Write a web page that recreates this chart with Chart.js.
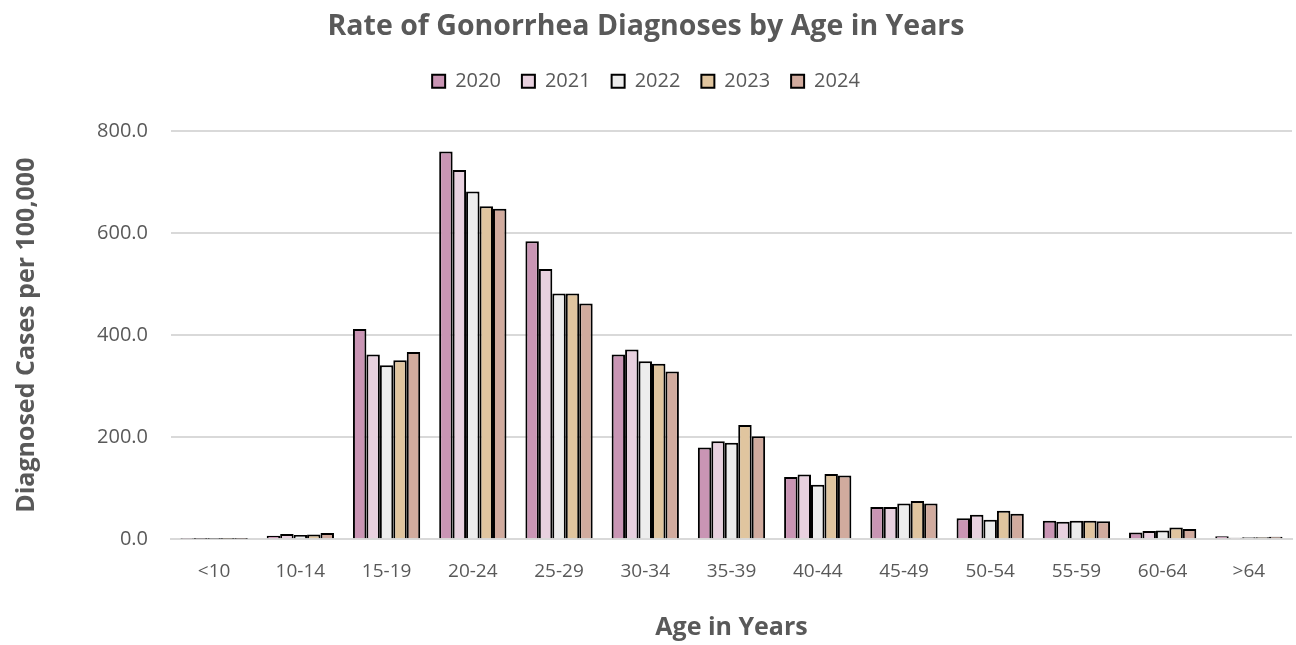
<!DOCTYPE html>
<html>
<head>
<meta charset="utf-8">
<script src="https://cdn.jsdelivr.net/npm/chart.js@4/dist/chart.umd.min.js"></script>
<style>
html,body{margin:0;padding:0;background:#fff;}
#wrap{width:1296px;height:645px;position:relative;}
</style>
</head>
<body>
<div id="wrap"><canvas id="c" width="1296" height="645"></canvas></div>
<script>
const categories = ["<10","10-14","15-19","20-24","25-29","30-34","35-39","40-44","45-49","50-54","55-59","60-64",">64"];
const years = ["2020","2021","2022","2023","2024"];
const v2020 = [0.8, 7, 412, 760, 584, 362, 180, 122, 63, 41, 36, 13, 6];
const v2021 = [0.6, 10, 362, 724, 530, 372, 192, 127, 63, 48, 34, 16, 3];
const v2022 = [0.6, 8, 341, 682, 482, 349, 189, 107, 70, 38, 36, 17, 4];
const v2023 = [0.6, 9, 351, 653, 482, 344, 224, 128, 75, 56, 36, 23, 4];
const v2024 = [0.6, 12, 367, 648, 462, 329, 202, 125, 70, 50, 35, 20, 5];
const yTicks = [0, 200, 400, 600, 800];

const colors = ["#C995B4", "#E8D1DF", "#EDEDED", "#E0C59F", "#D1AB9E"];
const series = [v2020, v2021, v2022, v2023, v2024];
const FONT = "'Open Sans', 'Noto Sans', sans-serif";
const TXT = "#595959";

const legendGap = {
  id: 'legendGap',
  beforeLayout(chart) {
    const lg = chart.legend;
    if (lg && !lg._gapPatched) {
      const f = lg.fit;
      lg.fit = function () { f.call(this); this.height += 30; };
      lg._gapPatched = true;
    }
  }
};

new Chart(document.getElementById('c'), {
  type: 'bar',
  data: {
    labels: categories,
    datasets: years.map((y, i) => ({
      label: y,
      data: series[i],
      backgroundColor: colors[i],
      borderColor: "#000000",
      borderWidth: 2,
      borderSkipped: 'bottom',
      categoryPercentage: 0.78,
      barPercentage: 1.0
    }))
  },
  plugins: [legendGap],
  options: {
    responsive: false,
    animation: false,
    devicePixelRatio: 1,
    layout: { padding: { left: 0, right: 4, top: 0, bottom: 2 } },
    plugins: {
      title: {
        display: true,
        text: "Rate of Gonorrhea Diagnoses by Age in Years",
        color: TXT,
        font: { family: FONT, size: 28.5, weight: 'bold' },
        padding: { top: 10, bottom: 6 }
      },
      legend: {
        display: true,
        position: 'top',
        labels: {
          color: TXT,
          font: { family: FONT, size: 20 },
          boxWidth: 13,
          boxHeight: 13,
          padding: 21,
          generateLabels: (chart) => chart.data.datasets.map((ds, i) => ({
            text: ds.label,
            fillStyle: ds.backgroundColor,
            strokeStyle: "#000000",
            lineWidth: 2,
            fontColor: TXT,
            datasetIndex: i,
            hidden: false
          }))
        }
      },
      tooltip: { enabled: false }
    },
    scales: {
      x: {
        grid: { display: false, drawTicks: false },
        border: { display: true, color: "#D9D9D9", width: 2 },
        ticks: { color: TXT, font: { family: FONT, size: 19 }, padding: 21, maxRotation: 0 },
        title: {
          display: true,
          text: "Age in Years",
          color: TXT,
          font: { family: FONT, size: 25, weight: 'bold' },
          padding: { top: 9, bottom: 0 }
        }
      },
      y: {
        min: 0,
        max: 800,
        afterBuildTicks: (axis) => { axis.ticks = yTicks.map(v => ({ value: v })); },
        afterFit: (axis) => { axis.width = 171; },
        grid: { color: "#D9D9D9", lineWidth: 2, drawTicks: false },
        border: { display: false },
        ticks: {
          color: TXT,
          font: { family: FONT, size: 20 },
          padding: 23,
          callback: (v) => Number(v).toFixed(1)
        },
        title: {
          display: true,
          text: "Diagnosed Cases per 100,000",
          color: TXT,
          font: { family: FONT, size: 25, weight: 'bold' },
          padding: { top: 12, bottom: 0 }
        }
      }
    }
  }
});
</script>
</body>
</html>
